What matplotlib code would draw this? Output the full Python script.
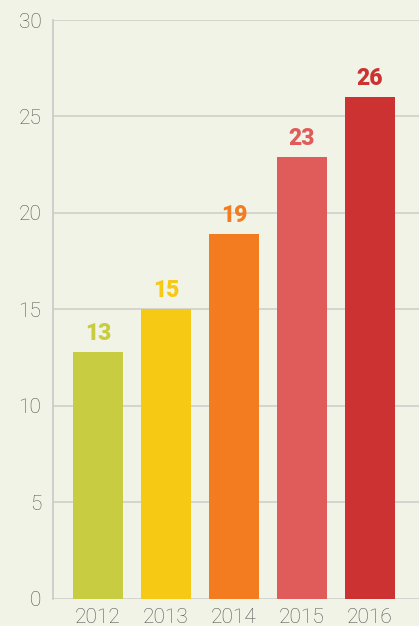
import matplotlib.pyplot as plt

years = ['2012', '2013', '2014', '2015', '2016']
values = [12.8, 15.0, 18.9, 22.9, 26.0]
colors = ['#c8cc40', '#f5c914', '#f47c20', '#e05c5a', '#cc3232']
yticks = [0, 5, 10, 15, 20, 25, 30]

bg = '#f1f3e6'
plt.rcParams['font.family'] = ['Roboto', 'DejaVu Sans']

fig = plt.figure(figsize=(4.19, 6.26), dpi=100, facecolor=bg)
ax = fig.add_axes([0.1253, 0.0439, 0.8747, 0.9241], facecolor=bg)

x = list(range(len(years)))
bars = ax.bar(x, values, width=0.735, color=colors, zorder=3)

for xi, v, c in zip(x, values, colors):
    ax.annotate('{:.0f}'.format(v), (xi, v), xytext=(0, 5), textcoords='offset points',
                ha='center', va='bottom', color=c, fontsize=16.5, fontweight='heavy')

ax.set_xlim(-0.669, 4.72)
ax.set_ylim(0, 30)
ax.set_yticks(yticks)
ax.set_xticks(x)
ax.set_xticklabels(years)
ax.grid(axis='y', color='#cfcfcb', linewidth=1.2, zorder=0)
ax.tick_params(axis='both', length=0, labelsize=15, labelcolor='#555555')
ax.tick_params(axis='y', pad=8)
ax.tick_params(axis='x', pad=7)
for lab in ax.get_xticklabels() + ax.get_yticklabels():
    lab.set_fontweight('light')

for s in ['top', 'right', 'bottom']:
    ax.spines[s].set_visible(False)
ax.spines['left'].set_color('#c8c8c8')
ax.spines['left'].set_linewidth(1.2)

fig.savefig('out.png', dpi=100, facecolor=bg)
